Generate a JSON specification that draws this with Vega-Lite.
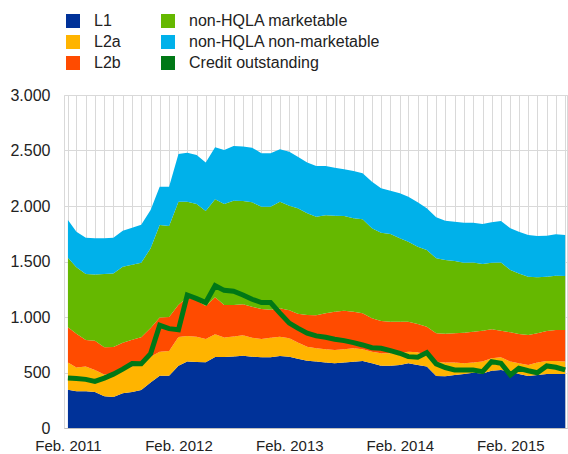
{
"$schema": "https://vega.github.io/schema/vega-lite/v6.json",
"width": 503, "height": 333,
"autosize": {"type": "none"},
"padding": {"left": 64, "top": 95, "right": 1, "bottom": 26},
"background": "white",
"config": {"font": "Liberation Sans", "view": {"stroke": "#d9d9d9"}},
"datasets": {
"hqla": [
{"d":"2011-02","s":"L1","v":345},{"d":"2011-02","s":"L2a","v":244},{"d":"2011-02","s":"L2b","v":318},{"d":"2011-02","s":"non-HQLA marketable","v":627},{"d":"2011-02","s":"non-HQLA non-marketable","v":340},
{"d":"2011-03","s":"L1","v":332},{"d":"2011-03","s":"L2a","v":213},{"d":"2011-03","s":"L2b","v":305},{"d":"2011-03","s":"non-HQLA marketable","v":598},{"d":"2011-03","s":"non-HQLA non-marketable","v":321},
{"d":"2011-04","s":"L1","v":330},{"d":"2011-04","s":"L2a","v":225},{"d":"2011-04","s":"L2b","v":238},{"d":"2011-04","s":"non-HQLA marketable","v":594},{"d":"2011-04","s":"non-HQLA non-marketable","v":328},
{"d":"2011-05","s":"L1","v":324},{"d":"2011-05","s":"L2a","v":198},{"d":"2011-05","s":"L2b","v":265},{"d":"2011-05","s":"non-HQLA marketable","v":597},{"d":"2011-05","s":"non-HQLA non-marketable","v":325},
{"d":"2011-06","s":"L1","v":285},{"d":"2011-06","s":"L2a","v":197},{"d":"2011-06","s":"L2b","v":245},{"d":"2011-06","s":"non-HQLA marketable","v":660},{"d":"2011-06","s":"non-HQLA non-marketable","v":322},
{"d":"2011-07","s":"L1","v":279},{"d":"2011-07","s":"L2a","v":207},{"d":"2011-07","s":"L2b","v":244},{"d":"2011-07","s":"non-HQLA marketable","v":663},{"d":"2011-07","s":"non-HQLA non-marketable","v":322},
{"d":"2011-08","s":"L1","v":312},{"d":"2011-08","s":"L2a","v":211},{"d":"2011-08","s":"L2b","v":245},{"d":"2011-08","s":"non-HQLA marketable","v":685},{"d":"2011-08","s":"non-HQLA non-marketable","v":325},
{"d":"2011-09","s":"L1","v":324},{"d":"2011-09","s":"L2a","v":229},{"d":"2011-09","s":"L2b","v":242},{"d":"2011-09","s":"non-HQLA marketable","v":676},{"d":"2011-09","s":"non-HQLA non-marketable","v":334},
{"d":"2011-10","s":"L1","v":342},{"d":"2011-10","s":"L2a","v":230},{"d":"2011-10","s":"L2b","v":246},{"d":"2011-10","s":"non-HQLA marketable","v":671},{"d":"2011-10","s":"non-HQLA non-marketable","v":343},
{"d":"2011-11","s":"L1","v":410},{"d":"2011-11","s":"L2a","v":233},{"d":"2011-11","s":"L2b","v":257},{"d":"2011-11","s":"non-HQLA marketable","v":719},{"d":"2011-11","s":"non-HQLA non-marketable","v":345},
{"d":"2011-12","s":"L1","v":470},{"d":"2011-12","s":"L2a","v":218},{"d":"2011-12","s":"L2b","v":307},{"d":"2011-12","s":"non-HQLA marketable","v":834},{"d":"2011-12","s":"non-HQLA non-marketable","v":345},
{"d":"2012-01","s":"L1","v":470},{"d":"2012-01","s":"L2a","v":224},{"d":"2012-01","s":"L2b","v":306},{"d":"2012-01","s":"non-HQLA marketable","v":820},{"d":"2012-01","s":"non-HQLA non-marketable","v":354},
{"d":"2012-02","s":"L1","v":560},{"d":"2012-02","s":"L2a","v":260},{"d":"2012-02","s":"L2b","v":290},{"d":"2012-02","s":"non-HQLA marketable","v":929},{"d":"2012-02","s":"non-HQLA non-marketable","v":429},
{"d":"2012-03","s":"L1","v":598},{"d":"2012-03","s":"L2a","v":231},{"d":"2012-03","s":"L2b","v":346},{"d":"2012-03","s":"non-HQLA marketable","v":864},{"d":"2012-03","s":"non-HQLA non-marketable","v":441},
{"d":"2012-04","s":"L1","v":595},{"d":"2012-04","s":"L2a","v":228},{"d":"2012-04","s":"L2b","v":327},{"d":"2012-04","s":"non-HQLA marketable","v":868},{"d":"2012-04","s":"non-HQLA non-marketable","v":441},
{"d":"2012-05","s":"L1","v":592},{"d":"2012-05","s":"L2a","v":210},{"d":"2012-05","s":"L2b","v":298},{"d":"2012-05","s":"non-HQLA marketable","v":855},{"d":"2012-05","s":"non-HQLA non-marketable","v":438},
{"d":"2012-06","s":"L1","v":640},{"d":"2012-06","s":"L2a","v":204},{"d":"2012-06","s":"L2b","v":333},{"d":"2012-06","s":"non-HQLA marketable","v":883},{"d":"2012-06","s":"non-HQLA non-marketable","v":469},
{"d":"2012-07","s":"L1","v":640},{"d":"2012-07","s":"L2a","v":175},{"d":"2012-07","s":"L2b","v":293},{"d":"2012-07","s":"non-HQLA marketable","v":910},{"d":"2012-07","s":"non-HQLA non-marketable","v":487},
{"d":"2012-08","s":"L1","v":645},{"d":"2012-08","s":"L2a","v":180},{"d":"2012-08","s":"L2b","v":283},{"d":"2012-08","s":"non-HQLA marketable","v":940},{"d":"2012-08","s":"non-HQLA non-marketable","v":493},
{"d":"2012-09","s":"L1","v":650},{"d":"2012-09","s":"L2a","v":185},{"d":"2012-09","s":"L2b","v":280},{"d":"2012-09","s":"non-HQLA marketable","v":930},{"d":"2012-09","s":"non-HQLA non-marketable","v":490},
{"d":"2012-10","s":"L1","v":643},{"d":"2012-10","s":"L2a","v":169},{"d":"2012-10","s":"L2b","v":281},{"d":"2012-10","s":"non-HQLA marketable","v":940},{"d":"2012-10","s":"non-HQLA non-marketable","v":492},
{"d":"2012-11","s":"L1","v":637},{"d":"2012-11","s":"L2a","v":165},{"d":"2012-11","s":"L2b","v":270},{"d":"2012-11","s":"non-HQLA marketable","v":922},{"d":"2012-11","s":"non-HQLA non-marketable","v":481},
{"d":"2012-12","s":"L1","v":637},{"d":"2012-12","s":"L2a","v":175},{"d":"2012-12","s":"L2b","v":253},{"d":"2012-12","s":"non-HQLA marketable","v":929},{"d":"2012-12","s":"non-HQLA non-marketable","v":481},
{"d":"2013-01","s":"L1","v":649},{"d":"2013-01","s":"L2a","v":174},{"d":"2013-01","s":"L2b","v":255},{"d":"2013-01","s":"non-HQLA marketable","v":961},{"d":"2013-01","s":"non-HQLA non-marketable","v":472},
{"d":"2013-02","s":"L1","v":643},{"d":"2013-02","s":"L2a","v":165},{"d":"2013-02","s":"L2b","v":252},{"d":"2013-02","s":"non-HQLA marketable","v":943},{"d":"2013-02","s":"non-HQLA non-marketable","v":486},
{"d":"2013-03","s":"L1","v":625},{"d":"2013-03","s":"L2a","v":145},{"d":"2013-03","s":"L2b","v":260},{"d":"2013-03","s":"non-HQLA marketable","v":949},{"d":"2013-03","s":"non-HQLA non-marketable","v":465},
{"d":"2013-04","s":"L1","v":605},{"d":"2013-04","s":"L2a","v":128},{"d":"2013-04","s":"L2b","v":285},{"d":"2013-04","s":"non-HQLA marketable","v":916},{"d":"2013-04","s":"non-HQLA non-marketable","v":459},
{"d":"2013-05","s":"L1","v":598},{"d":"2013-05","s":"L2a","v":120},{"d":"2013-05","s":"L2b","v":297},{"d":"2013-05","s":"non-HQLA marketable","v":889},{"d":"2013-05","s":"non-HQLA non-marketable","v":456},
{"d":"2013-06","s":"L1","v":589},{"d":"2013-06","s":"L2a","v":120},{"d":"2013-06","s":"L2b","v":324},{"d":"2013-06","s":"non-HQLA marketable","v":883},{"d":"2013-06","s":"non-HQLA non-marketable","v":444},
{"d":"2013-07","s":"L1","v":583},{"d":"2013-07","s":"L2a","v":120},{"d":"2013-07","s":"L2b","v":345},{"d":"2013-07","s":"non-HQLA marketable","v":865},{"d":"2013-07","s":"non-HQLA non-marketable","v":432},
{"d":"2013-08","s":"L1","v":589},{"d":"2013-08","s":"L2a","v":120},{"d":"2013-08","s":"L2b","v":348},{"d":"2013-08","s":"non-HQLA marketable","v":853},{"d":"2013-08","s":"non-HQLA non-marketable","v":420},
{"d":"2013-09","s":"L1","v":597},{"d":"2013-09","s":"L2a","v":121},{"d":"2013-09","s":"L2b","v":330},{"d":"2013-09","s":"non-HQLA marketable","v":841},{"d":"2013-09","s":"non-HQLA non-marketable","v":426},
{"d":"2013-10","s":"L1","v":604},{"d":"2013-10","s":"L2a","v":105},{"d":"2013-10","s":"L2b","v":324},{"d":"2013-10","s":"non-HQLA marketable","v":847},{"d":"2013-10","s":"non-HQLA non-marketable","v":415},
{"d":"2013-11","s":"L1","v":583},{"d":"2013-11","s":"L2a","v":105},{"d":"2013-11","s":"L2b","v":300},{"d":"2013-11","s":"non-HQLA marketable","v":811},{"d":"2013-11","s":"non-HQLA non-marketable","v":420},
{"d":"2013-12","s":"L1","v":561},{"d":"2013-12","s":"L2a","v":112},{"d":"2013-12","s":"L2b","v":291},{"d":"2013-12","s":"non-HQLA marketable","v":796},{"d":"2013-12","s":"non-HQLA non-marketable","v":399},
{"d":"2014-01","s":"L1","v":561},{"d":"2014-01","s":"L2a","v":112},{"d":"2014-01","s":"L2b","v":285},{"d":"2014-01","s":"non-HQLA marketable","v":790},{"d":"2014-01","s":"non-HQLA non-marketable","v":390},
{"d":"2014-02","s":"L1","v":568},{"d":"2014-02","s":"L2a","v":105},{"d":"2014-02","s":"L2b","v":285},{"d":"2014-02","s":"non-HQLA marketable","v":751},{"d":"2014-02","s":"non-HQLA non-marketable","v":405},
{"d":"2014-03","s":"L1","v":583},{"d":"2014-03","s":"L2a","v":105},{"d":"2014-03","s":"L2b","v":270},{"d":"2014-03","s":"non-HQLA marketable","v":720},{"d":"2014-03","s":"non-HQLA non-marketable","v":406},
{"d":"2014-04","s":"L1","v":568},{"d":"2014-04","s":"L2a","v":114},{"d":"2014-04","s":"L2b","v":255},{"d":"2014-04","s":"non-HQLA marketable","v":696},{"d":"2014-04","s":"non-HQLA non-marketable","v":400},
{"d":"2014-05","s":"L1","v":553},{"d":"2014-05","s":"L2a","v":105},{"d":"2014-05","s":"L2b","v":255},{"d":"2014-05","s":"non-HQLA marketable","v":691},{"d":"2014-05","s":"non-HQLA non-marketable","v":375},
{"d":"2014-06","s":"L1","v":469},{"d":"2014-06","s":"L2a","v":128},{"d":"2014-06","s":"L2b","v":256},{"d":"2014-06","s":"non-HQLA marketable","v":676},{"d":"2014-06","s":"non-HQLA non-marketable","v":369},
{"d":"2014-07","s":"L1","v":466},{"d":"2014-07","s":"L2a","v":123},{"d":"2014-07","s":"L2b","v":261},{"d":"2014-07","s":"non-HQLA marketable","v":664},{"d":"2014-07","s":"non-HQLA non-marketable","v":354},
{"d":"2014-08","s":"L1","v":477},{"d":"2014-08","s":"L2a","v":112},{"d":"2014-08","s":"L2b","v":264},{"d":"2014-08","s":"non-HQLA marketable","v":652},{"d":"2014-08","s":"non-HQLA non-marketable","v":354},
{"d":"2014-09","s":"L1","v":486},{"d":"2014-09","s":"L2a","v":97},{"d":"2014-09","s":"L2b","v":276},{"d":"2014-09","s":"non-HQLA marketable","v":630},{"d":"2014-09","s":"non-HQLA non-marketable","v":361},
{"d":"2014-10","s":"L1","v":498},{"d":"2014-10","s":"L2a","v":91},{"d":"2014-10","s":"L2b","v":279},{"d":"2014-10","s":"non-HQLA marketable","v":624},{"d":"2014-10","s":"non-HQLA non-marketable","v":358},
{"d":"2014-11","s":"L1","v":492},{"d":"2014-11","s":"L2a","v":106},{"d":"2014-11","s":"L2b","v":279},{"d":"2014-11","s":"non-HQLA marketable","v":600},{"d":"2014-11","s":"non-HQLA non-marketable","v":361},
{"d":"2014-12","s":"L1","v":516},{"d":"2014-12","s":"L2a","v":112},{"d":"2014-12","s":"L2b","v":261},{"d":"2014-12","s":"non-HQLA marketable","v":600},{"d":"2014-12","s":"non-HQLA non-marketable","v":364},
{"d":"2015-01","s":"L1","v":523},{"d":"2015-01","s":"L2a","v":114},{"d":"2015-01","s":"L2b","v":240},{"d":"2015-01","s":"non-HQLA marketable","v":615},{"d":"2015-01","s":"non-HQLA non-marketable","v":373},
{"d":"2015-02","s":"L1","v":508},{"d":"2015-02","s":"L2a","v":90},{"d":"2015-02","s":"L2b","v":264},{"d":"2015-02","s":"non-HQLA marketable","v":561},{"d":"2015-02","s":"non-HQLA non-marketable","v":376},
{"d":"2015-03","s":"L1","v":486},{"d":"2015-03","s":"L2a","v":97},{"d":"2015-03","s":"L2b","v":264},{"d":"2015-03","s":"non-HQLA marketable","v":546},{"d":"2015-03","s":"non-HQLA non-marketable","v":376},
{"d":"2015-04","s":"L1","v":469},{"d":"2015-04","s":"L2a","v":99},{"d":"2015-04","s":"L2b","v":270},{"d":"2015-04","s":"non-HQLA marketable","v":525},{"d":"2015-04","s":"non-HQLA non-marketable","v":376},
{"d":"2015-05","s":"L1","v":477},{"d":"2015-05","s":"L2a","v":112},{"d":"2015-05","s":"L2b","v":264},{"d":"2015-05","s":"non-HQLA marketable","v":504},{"d":"2015-05","s":"non-HQLA non-marketable","v":373},
{"d":"2015-06","s":"L1","v":486},{"d":"2015-06","s":"L2a","v":118},{"d":"2015-06","s":"L2b","v":270},{"d":"2015-06","s":"non-HQLA marketable","v":489},{"d":"2015-06","s":"non-HQLA non-marketable","v":370},
{"d":"2015-07","s":"L1","v":486},{"d":"2015-07","s":"L2a","v":118},{"d":"2015-07","s":"L2b","v":279},{"d":"2015-07","s":"non-HQLA marketable","v":489},{"d":"2015-07","s":"non-HQLA non-marketable","v":373},
{"d":"2015-08","s":"L1","v":486},{"d":"2015-08","s":"L2a","v":112},{"d":"2015-08","s":"L2b","v":285},{"d":"2015-08","s":"non-HQLA marketable","v":486},{"d":"2015-08","s":"non-HQLA non-marketable","v":370}
],
"credit": [
{"d":"2011-02","v":450},{"d":"2011-03","v":445},{"d":"2011-04","v":438},{"d":"2011-05","v":420},{"d":"2011-06","v":450},{"d":"2011-07","v":485},{"d":"2011-08","v":530},{"d":"2011-09","v":580},{"d":"2011-10","v":578},{"d":"2011-11","v":670},{"d":"2011-12","v":925},
{"d":"2012-01","v":895},{"d":"2012-02","v":885},{"d":"2012-03","v":1198},{"d":"2012-04","v":1165},{"d":"2012-05","v":1130},{"d":"2012-06","v":1282},{"d":"2012-07","v":1240},{"d":"2012-08","v":1232},{"d":"2012-09","v":1198},{"d":"2012-10","v":1160},{"d":"2012-11","v":1130},{"d":"2012-12","v":1130},
{"d":"2013-01","v":1035},{"d":"2013-02","v":945},{"d":"2013-03","v":900},{"d":"2013-04","v":855},{"d":"2013-05","v":830},{"d":"2013-06","v":817},{"d":"2013-07","v":800},{"d":"2013-08","v":787},{"d":"2013-09","v":769},{"d":"2013-10","v":748},{"d":"2013-11","v":723},{"d":"2013-12","v":718},
{"d":"2014-01","v":697},{"d":"2014-02","v":673},{"d":"2014-03","v":643},{"d":"2014-04","v":637},{"d":"2014-05","v":679},{"d":"2014-06","v":577},{"d":"2014-07","v":545},{"d":"2014-08","v":523},{"d":"2014-09","v":523},{"d":"2014-10","v":523},{"d":"2014-11","v":508},{"d":"2014-12","v":598},
{"d":"2015-01","v":583},{"d":"2015-02","v":477},{"d":"2015-03","v":538},{"d":"2015-04","v":516},{"d":"2015-05","v":498},{"d":"2015-06","v":559},{"d":"2015-07","v":547},{"d":"2015-08","v":523}
]
},
"layer": [
{
"data": {"name": "hqla"},
"mark": {"type": "area", "interpolate": "linear"},
"encoding": {
"x": {"field": "d", "type": "temporal",
 "scale": {"domain": [{"year": 2011, "month": 1, "date": 19}, {"year": 2015, "month": 8, "date": 7}], "nice": false},
 "axis": {"title": null, "tickCount": {"interval": "month", "step": 1}, "labelExpr": "month(datum.value) == 1 ? timeFormat(datum.value, '%b. %Y') : ''", "labelOverlap": false, "labelFlush": false, "ticks": false, "grid": true, "gridColor": "#d9d9d9", "domainColor": "#bfbfbf", "labelFontSize": 15, "labelPadding": 10, "labelColor": "#222222", "labelFont": "Liberation Sans"}},
"y": {"field": "v", "type": "quantitative", "stack": "zero",
 "scale": {"domain": [0, 3000], "nice": false},
 "axis": {"title": null, "values": [0, 500, 1000, 1500, 2000, 2500, 3000], "labelExpr": "replace(format(datum.value, ','), ',', '.')", "ticks": false, "domain": false, "grid": true, "gridColor": "#d9d9d9", "labelFontSize": 16, "labelPadding": 14, "labelColor": "#222222", "labelFont": "Liberation Sans"}},
"color": {"field": "s", "type": "nominal",
 "scale": {"domain": ["L1", "L2a", "L2b", "non-HQLA marketable", "non-HQLA non-marketable", "Credit outstanding"], "range": ["#003299", "#FFB400", "#FF4B00", "#65B800", "#00B1EA", "#007816"]},
 "legend": {"orient": "none", "legendX": 1, "legendY": -82, "columns": 2, "title": null, "symbolType": "square", "symbolSize": 196, "symbolStrokeWidth": 0, "labelFontSize": 16, "labelFont": "Liberation Sans", "labelColor": "#222222", "labelOffset": 13, "labelLimit": 400, "rowPadding": 5, "columnPadding": 39, "padding": 0}},
"order": {"field": "s", "sort": "ascending"}
}
},
{
"data": {"name": "credit"},
"mark": {"type": "line", "color": "#007816", "strokeWidth": 5},
"encoding": {
"x": {"field": "d", "type": "temporal"},
"y": {"field": "v", "type": "quantitative"}
}
}
]
}
